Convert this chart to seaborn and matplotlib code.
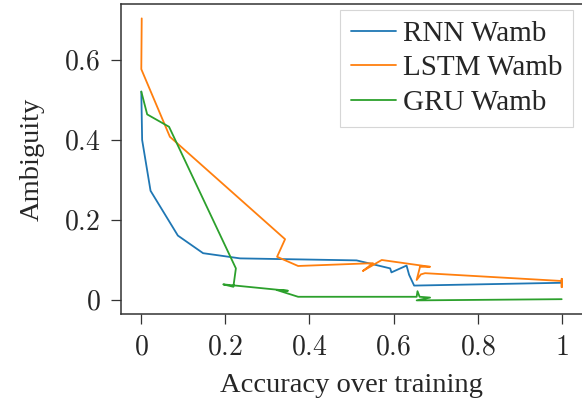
import matplotlib
matplotlib.use("Agg")
import matplotlib.pyplot as plt
from matplotlib.ticker import FuncFormatter
import seaborn as sns
import pandas as pd

rnn_acc = [0.0, 0.002, 0.022, 0.087, 0.147, 0.235, 0.512, 0.592, 0.595, 0.631, 0.637, 0.649, 1.0]
rnn_amb = [0.521, 0.400, 0.273, 0.161, 0.117, 0.104, 0.099, 0.079, 0.069, 0.086, 0.063, 0.036, 0.043]

lstm_acc = [0.001, 0.0, 0.068, 0.342, 0.323, 0.373, 0.551, 0.527, 0.572, 0.687, 0.663, 0.655, 0.665, 0.675, 1.0, 1.0, 1.0, 1.0]
lstm_amb = [0.704, 0.577, 0.408, 0.152, 0.108, 0.085, 0.092, 0.0725, 0.100, 0.083, 0.083, 0.050, 0.064, 0.067, 0.0475, 0.032, 0.053, 0.045]

gru_acc = [0.0, 0.014, 0.066, 0.225, 0.219, 0.195, 0.349, 0.322, 0.373, 0.655, 0.657, 0.662, 0.687, 0.655, 1.0]
gru_amb = [0.521, 0.464, 0.433, 0.079, 0.033, 0.039, 0.023, 0.025, 0.008, 0.008, 0.022, 0.008, 0.006, -0.001, 0.002]

labels = ["RNN Wamb", "LSTM Wamb", "GRU Wamb"]
xticks = [0, 0.2, 0.4, 0.6, 0.8, 1]
yticks = [0, 0.2, 0.4, 0.6]

rows = []
for lab, xs, ys in zip(labels, [rnn_acc, lstm_acc, gru_acc], [rnn_amb, lstm_amb, gru_amb]):
    for i, (a, b) in enumerate(zip(xs, ys)):
        rows.append({"acc": a, "amb": b, "model": lab, "step": i})
df = pd.DataFrame(rows)

sns.set_style("ticks")
plt.rcParams["font.family"] = ["Liberation Serif", "DejaVu Serif"]
plt.rcParams["mathtext.fontset"] = "cm"

fig = plt.figure(figsize=(5.82, 4.03), dpi=100)
W, H = 582, 403
ax = fig.add_axes([120.7 / W, (H - 314.3) / H, (583 - 120.7) / W, (314.3 - 4) / H])

palette = ["#1f77b4", "#ff7f0e", "#2ca02c"]
sns.lineplot(data=df, x="acc", y="amb", hue="model", hue_order=labels, palette=palette,
             sort=False, estimator=None, units="model", linewidth=1.3, ax=ax)

ax.set_xlim(-0.049, 1.0507)
ax.set_ylim(-0.0358, 0.74)
ax.set_xticks(xticks)
ax.set_yticks(yticks)

def fmt(v, pos):
    s = f"{v:g}"
    return f"${s}$"

ax.xaxis.set_major_formatter(FuncFormatter(fmt))
ax.yaxis.set_major_formatter(FuncFormatter(fmt))
ax.tick_params(axis="both", labelsize=20, length=7.5, width=0.9, color="#333333", direction="out")
ax.tick_params(axis="x", pad=8)
ax.tick_params(axis="y", pad=7)
for s in ax.spines.values():
    s.set_color("#333333")
    s.set_linewidth(1.1)

ax.set_xlabel("Accuracy over training", fontsize=20.5, labelpad=9)
ax.set_ylabel("Ambiguity", fontsize=20.5, labelpad=14)

leg = ax.legend(loc="upper right", bbox_to_anchor=(573 / W, 1 - 10 / H), bbox_transform=fig.transFigure,
                borderaxespad=0, fontsize=21, frameon=True, fancybox=False,
                handlelength=1.55, handletextpad=0.25, labelspacing=0.28, borderpad=0.36)
leg.get_frame().set_edgecolor("#cccccc")
leg.get_frame().set_linewidth(0.8)
for line in leg.get_lines():
    line.set_linewidth(1.3)

fig.savefig("out.png", dpi=100)
